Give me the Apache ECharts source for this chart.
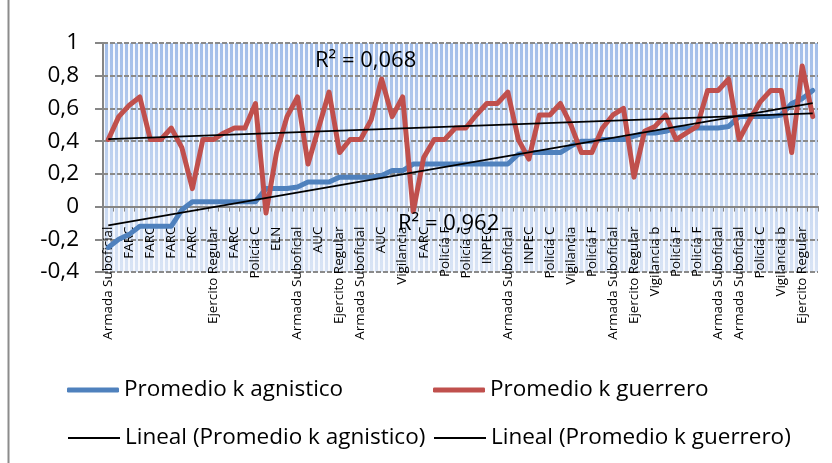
<!DOCTYPE html>
<html>
<head>
<meta charset="utf-8">
<script src="https://cdn.jsdelivr.net/npm/echarts@6/dist/echarts.min.js"></script>
<style>
html,body{margin:0;padding:0;background:#fff;}
#chart{width:832px;height:463px;}
</style>
</head>
<body>
<div id="chart"></div>
<script>
const categories = [
 'Armada Suboficial','FARC','FARC','FARC','FARC','FARC','FARC','FARC','FARC','FARC',
 'Ejercito Regular','FARC','FARC','Policía C','Policía C','AUC','ELN','ELN','Armada Suboficial','AUC',
 'AUC','AUC','Ejercito Regular','FARC','Armada Suboficial','AUC','AUC','Vigilancia','Vigilancia','FARC',
 'FARC','Policía F','Policía F','Policía C','Policía C','INPEC','INPEC','Policía C','Armada Suboficial','INPEC',
 'INPEC','Policía C','Policía C','Vigilancia','Vigilancia','Policía F','Policía F','Armada Suboficial','Armada Suboficial','Ejercito Regular',
 'Ejercito Regular','Vigilancia b','Vigilancia b','Policía F','Policía F','Policía F','Policía F','Armada Suboficial','Armada Suboficial','Armada Suboficial',
 'Armada Suboficial','Policía C','Policía C','Vigilancia b','Vigilancia b','Ejercito Regular','Ejercito Regular','Policía C'
];
const agnostico = [
 -0.25,-0.20,-0.17,-0.12,-0.12,-0.12,-0.12,-0.02,0.03,0.03,
 0.03,0.03,0.03,0.03,0.03,0.11,0.11,0.11,0.12,0.15,
 0.15,0.15,0.18,0.18,0.18,0.18,0.19,0.22,0.22,0.26,
 0.26,0.26,0.26,0.26,0.26,0.26,0.26,0.26,0.26,0.32,
 0.33,0.33,0.33,0.33,0.37,0.40,0.40,0.41,0.41,0.41,
 0.43,0.45,0.45,0.46,0.48,0.48,0.48,0.48,0.48,0.49,
 0.55,0.55,0.55,0.55,0.56,0.63,0.66,0.71
];
const guerrero = [
 0.41,0.55,0.62,0.67,0.41,0.41,0.48,0.36,0.11,0.41,
 0.41,0.45,0.48,0.48,0.63,-0.04,0.33,0.55,0.67,0.26,
 0.48,0.70,0.33,0.41,0.41,0.53,0.78,0.55,0.67,-0.03,
 0.30,0.41,0.41,0.48,0.48,0.56,0.63,0.63,0.70,0.41,
 0.29,0.56,0.56,0.63,0.50,0.33,0.33,0.48,0.56,0.60,
 0.18,0.46,0.49,0.56,0.41,0.45,0.49,0.71,0.71,0.78,
 0.41,0.53,0.64,0.71,0.71,0.33,0.86,0.55
];
// trend line end values (first and last category)
const trendAgnostico = [-0.115, 0.632];
const trendGuerrero = [0.412, 0.570];
const r2Labels = ['R² = 0,068', 'R² = 0,962'];
const seriesNames = ['Promedio k agnistico','Promedio k guerrero','Lineal (Promedio k agnistico)','Lineal (Promedio k guerrero)'];

const FONT = '"Open Sans", sans-serif';
// striped plot background
const pc = document.createElement('canvas');
pc.width = 5; pc.height = 463;
const pctx = pc.getContext('2d');
pctx.fillStyle = '#f7f9fd';
pctx.fillRect(0,0,5,463);
const grad = pctx.createLinearGradient(0,43,0,272);
grad.addColorStop(0,'#a3bee9');
grad.addColorStop(1,'#d9e4f5');
pctx.fillStyle = grad;
pctx.fillRect(0,0,3,463);

const chart = echarts.init(document.getElementById('chart'));
const last = categories.length - 1;
function legendItem(name, left, top, icon, h){
  return {
    data:[{name:name, icon:icon}], left:left, top:top, itemWidth:52, itemHeight:h, itemGap:0,
    padding:0, textStyle:{fontFamily:FONT, fontSize:22.5, color:'#000', lineHeight:28}
  };
}
chart.setOption({
  animation:false,
  backgroundColor:'#fff',
  grid:{left:103, right:14, top:43, bottom:191, show:true, borderWidth:0,
        backgroundColor:{image:pc, repeat:'repeat'}},
  legend:[
    legendItem(seriesNames[0], 67, 376, 'roundRect', 5),
    legendItem(seriesNames[1], 433, 376, 'roundRect', 5),
    legendItem(seriesNames[2], 68, 424, 'rect', 2),
    legendItem(seriesNames[3], 434, 424, 'rect', 2)
  ],
  xAxis:{
    type:'category', data:categories, boundaryGap:true,
    axisLine:{onZero:false, lineStyle:{color:'#868686', width:2}},
    axisTick:{show:true, interval:0, length:5, lineStyle:{color:'#868686'}},
    axisLabel:{interval:1, rotate:90, margin:20, fontFamily:FONT, fontSize:13.4, color:'#000'},
    splitLine:{show:false}
  },
  yAxis:{
    type:'value', min:-0.4, max:1, interval:0.2,
    axisLine:{show:true, lineStyle:{color:'#868686', width:2}},
    axisTick:{show:true, length:8, lineStyle:{color:'#868686', width:2}},
    axisLabel:{margin:24, fontFamily:FONT, fontSize:22.5, color:'#000',
      formatter:function(v){ return String(Math.round(v*10)/10).replace('.',','); }},
    splitLine:{show:true, lineStyle:{color:'#8a8a8a', width:2, type:[5,2]}}
  },
  series:[
    {name:seriesNames[0], type:'line', data:agnostico, symbol:'none', color:'#4f81bd',
     lineStyle:{width:5, color:'#4f81bd', cap:'round', join:'round'}, z:2},
    {name:seriesNames[1], type:'line', data:guerrero, symbol:'none', color:'#c0504d',
     lineStyle:{width:5, color:'#c0504d', cap:'round', join:'round'}, z:3},
    {name:seriesNames[2], type:'line', data:[[0,trendAgnostico[0]],[last,trendAgnostico[1]]], symbol:'none', color:'#000',
     lineStyle:{width:1.8, color:'#000'}, z:4},
    {name:seriesNames[3], type:'line', data:[[0,trendGuerrero[0]],[last,trendGuerrero[1]]], symbol:'none', color:'#000',
     lineStyle:{width:1.8, color:'#000'}, z:4}
  ],
  graphic:[
    {type:'text', left:315, top:50, z:10, style:{text:r2Labels[0], font:'22px '+FONT, fill:'#000'}},
    {type:'text', left:398, top:213, z:10, style:{text:r2Labels[1], font:'22px '+FONT, fill:'#000'}},
    {type:'line', shape:{x1:8.5,y1:0,x2:8.5,y2:463}, style:{stroke:'#8c8c8c', lineWidth:2}}
  ]
});
// move the category axis (line, ticks, labels) up to value 0, as in the original
const zeroPx = chart.convertToPixel({yAxisIndex:0}, 0);
const minPx = chart.convertToPixel({yAxisIndex:0}, -0.4);
chart.setOption({xAxis:{offset: zeroPx - minPx}});
</script>
</body>
</html>
